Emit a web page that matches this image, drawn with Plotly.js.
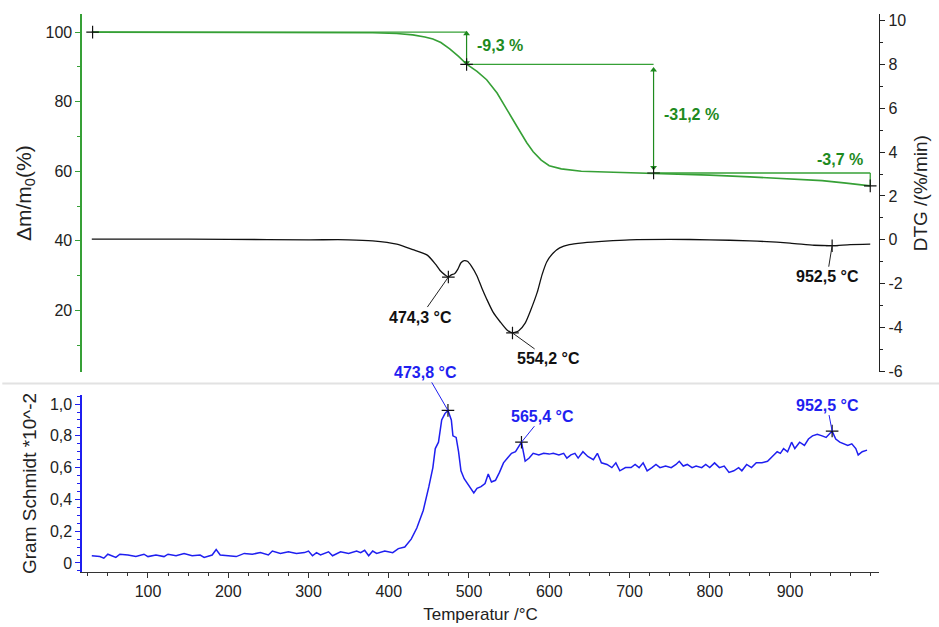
<!DOCTYPE html>
<html>
<head>
<meta charset="utf-8">
<script src="https://cdn.plot.ly/plotly-3.0.1.min.js"></script>
<style>html,body{margin:0;padding:0;background:#fff;}#chart{width:939px;height:627px;}</style>
</head>
<body>
<div id="chart"></div>
<script>
// ---- TG (mass loss, %) ----
var tgT = [30,100,200,300,380,410,430,445,455,465,476,487,497,510,522,535,547,560,572,580,590,600,615,640,680,730,800,850,900,940,970,1000];
var tgV = [100,100,99.95,99.9,99.8,99.6,99.2,98.6,98.0,97.0,95.2,93.0,90.8,88.7,86.3,82.5,77.7,72.8,68.2,65.6,63.2,61.6,60.7,60.0,59.7,59.4,58.9,58.4,57.8,57.3,56.6,55.8];

// ---- DTG (%/min) ----
var dtgT = [30,100,200,300,350,380,410,430,448,458,464,470,474.3,478,482,486,490,494,498,503,510,516,522,530,539,547,554.2,562,570,577,585,591,597,605,613,625,642,670,700,750,800,850,900,930,952.5,975,1000];
var dtgV = [0.03,0.03,0.02,0.0,0.0,-0.05,-0.2,-0.45,-0.7,-1.1,-1.4,-1.6,-1.7,-1.6,-1.55,-1.35,-1.05,-0.95,-0.98,-1.2,-1.65,-2.2,-2.7,-3.3,-3.75,-4.1,-4.25,-4.15,-3.8,-3.2,-2.4,-1.6,-1.0,-0.6,-0.37,-0.22,-0.14,-0.06,0.0,0.02,0.0,-0.05,-0.15,-0.25,-0.27,-0.22,-0.2];

// ---- Gram Schmidt (*10^-2) ----
var gsT = [30,40,45,50,60,65,75,85,95,100,110,120,125,135,145,155,165,170,180,185,190,200,210,220,230,240,250,255,265,275,285,295,300,305,310,315,325,330,340,350,360,365,370,375,380,385,395,405,412,420,428,435,443,450,455,458,462,466,470,473.8,478,480,484,487,490,494,498,503,506,510,515,520,524,528,533,538,543,548,553,558,562,565.4,570,575,580,587,593,600,605,612,618,622,627,632,636,642,648,655,660,665,672,678,683,688,695,702,707,712,717,722,728,733,738,745,752,758,762,767,772,778,783,790,795,800,806,812,818,824,830,836,840,846,852,858,865,872,878,884,888,892,897,902,906,912,918,923,928,934,940,945,952.5,957,962,968,972,977,982,985,990,996];
var gsV = [0.045,0.04,0.03,0.055,0.035,0.055,0.05,0.04,0.055,0.04,0.05,0.04,0.055,0.045,0.06,0.045,0.05,0.035,0.05,0.085,0.05,0.045,0.04,0.06,0.055,0.065,0.05,0.075,0.06,0.07,0.06,0.065,0.075,0.045,0.065,0.05,0.07,0.045,0.07,0.06,0.075,0.065,0.08,0.045,0.075,0.06,0.075,0.065,0.09,0.1,0.15,0.22,0.33,0.48,0.6,0.72,0.76,0.9,0.94,0.96,0.9,0.8,0.79,0.7,0.58,0.53,0.5,0.47,0.44,0.47,0.48,0.5,0.56,0.51,0.52,0.57,0.63,0.66,0.69,0.7,0.73,0.76,0.64,0.66,0.69,0.68,0.69,0.685,0.69,0.68,0.69,0.66,0.68,0.69,0.66,0.7,0.67,0.65,0.69,0.63,0.62,0.6,0.63,0.58,0.6,0.6,0.62,0.6,0.63,0.58,0.6,0.62,0.6,0.61,0.6,0.62,0.64,0.61,0.62,0.6,0.61,0.6,0.62,0.6,0.63,0.6,0.61,0.57,0.58,0.6,0.58,0.62,0.6,0.63,0.63,0.64,0.67,0.7,0.69,0.72,0.7,0.76,0.72,0.76,0.74,0.78,0.8,0.81,0.8,0.79,0.83,0.78,0.76,0.75,0.74,0.75,0.72,0.68,0.7,0.71];

// ---- evaluated points / steps ----
var stepT = [31, 497, 730, 1000];
var stepLevel = [100, 90.7, 59.5, 55.8];
var stepLabels = ['-9,3 %', '-31,2 %', '-3,7 %'];
var dtgPeakT = [474.3, 554.2, 952.5];
var dtgPeakV = [-1.7, -4.25, -0.27];
var dtgPeakLabels = ['474,3 °C', '554,2 °C', '952,5 °C'];
var gsPeakT = [473.8, 565.4, 952.5];
var gsPeakV = [0.96, 0.76, 0.83];
var gsPeakLabels = ['473,8 °C', '565,4 °C', '952,5 °C'];

// ---- tick labels ----
var xTickVals = [100,200,300,400,500,600,700,800,900];
var xTickText = ['100','200','300','400','500','600','700','800','900'];
var tgTickVals = [20,40,60,80,100];
var tgTickText = ['20','40','60','80','100'];
var dtgTickVals = [-6,-4,-2,0,2,4,6,8,10];
var dtgTickText = ['-6','-4','-2','0','2','4','6','8','10'];
var gsTickVals = [0,0.2,0.4,0.6,0.8,1.0];
var gsTickText = ['0','0,2','0,4','0,6','0,8','1,0'];

var GREEN = '#36a036';
var GREEN_TXT = '#1e8a1e';
var BLUE = '#1f1ff0';
var FONT = 'Liberation Sans, Arial, sans-serif';

// step lines (horizontal levels + final vertical)
var sx = [], sy = [];
for (var i = 0; i < stepT.length - 1; i++) {
  sx.push(stepT[i], stepT[i+1], null);
  sy.push(stepLevel[i], stepLevel[i], null);
}
sx.push(stepT[stepT.length-1], stepT[stepT.length-1]);
sy.push(stepLevel[stepLevel.length-2], stepLevel[stepLevel.length-1]);

// double-headed arrows for the first two steps
var arrX = [], arrY = [], arrSym = [];
for (var k = 0; k < 2; k++) {
  var span = stepLevel[k] - stepLevel[k+1];
  arrX.push(stepT[k+1], stepT[k+1], null);
  arrY.push(stepLevel[k] - span*0.05, stepLevel[k+1] + span*0.05, null);
  arrSym.push('triangle-up', 'triangle-down', 'circle');
}

var traces = [
  {x: tgT, y: tgV, xaxis: 'x', yaxis: 'y', mode: 'lines', line: {color: GREEN, width: 1.6}, hoverinfo: 'skip'},
  {x: sx, y: sy, xaxis: 'x', yaxis: 'y', mode: 'lines', line: {color: GREEN, width: 1.3}, hoverinfo: 'skip'},
  {x: arrX, y: arrY, xaxis: 'x', yaxis: 'y', mode: 'lines+markers', line: {color: GREEN_TXT, width: 1.2},
    marker: {symbol: arrSym, size: 6, color: GREEN_TXT}, hoverinfo: 'skip'},
  {x: stepT, y: stepLevel, xaxis: 'x', yaxis: 'y', mode: 'markers', marker: {symbol: 'cross-thin', size: 9, line: {color: '#111', width: 1.2}}, hoverinfo: 'skip'},
  {x: dtgT, y: dtgV, xaxis: 'x', yaxis: 'y2', mode: 'lines', line: {color: '#111', width: 1.3, shape: 'spline', smoothing: 0.6}, hoverinfo: 'skip'},
  {x: dtgPeakT, y: dtgPeakV, xaxis: 'x', yaxis: 'y2', mode: 'markers', marker: {symbol: 'cross-thin', size: 9, line: {color: '#111', width: 1.2}}, hoverinfo: 'skip'},
  {x: gsT, y: gsV, xaxis: 'x', yaxis: 'y3', mode: 'lines', line: {color: BLUE, width: 1.5}, hoverinfo: 'skip'},
  {x: gsPeakT, y: gsPeakV, xaxis: 'x', yaxis: 'y3', mode: 'markers', marker: {symbol: 'cross-thin', size: 9, line: {color: '#111', width: 1.2}}, hoverinfo: 'skip'}
];

var annotations = [];
// step labels
annotations.push({x: 507, y: 96.2, xref: 'x', yref: 'y', text: '<b>' + stepLabels[0] + '</b>', showarrow: false, xanchor: 'left', font: {family: FONT, size: 16, color: GREEN_TXT}});
annotations.push({x: 741, y: 76.3, xref: 'x', yref: 'y', text: '<b>' + stepLabels[1] + '</b>', showarrow: false, xanchor: 'left', font: {family: FONT, size: 16, color: GREEN_TXT}});
annotations.push({x: 993, y: 63.4, xref: 'x', yref: 'y', text: '<b>' + stepLabels[2] + '</b>', showarrow: false, xanchor: 'right', font: {family: FONT, size: 16, color: GREEN_TXT}});
// DTG peak labels
var dtgOff = [[-28, 40], [36, 26], [-5, 31]];
for (var d = 0; d < dtgPeakT.length; d++) {
  annotations.push({x: dtgPeakT[d], y: dtgPeakV[d], xref: 'x', yref: 'y2', ax: dtgOff[d][0], ay: dtgOff[d][1], text: '<b>' + dtgPeakLabels[d] + '</b>',
    showarrow: true, arrowhead: 0, arrowwidth: 1, arrowcolor: '#222', font: {family: FONT, size: 16, color: '#111'}});
}
// GS peak labels
var gsOff = [[-22, -38], [21, -26], [-5, -26]];
for (var g = 0; g < gsPeakT.length; g++) {
  annotations.push({x: gsPeakT[g], y: gsPeakV[g], xref: 'x', yref: 'y3', ax: gsOff[g][0], ay: gsOff[g][1], text: '<b>' + gsPeakLabels[g] + '</b>',
    showarrow: true, arrowhead: 0, arrowwidth: 1, arrowcolor: BLUE, font: {family: FONT, size: 16, color: BLUE}});
}

var tickFont = {family: FONT, size: 16, color: '#222'};
var layout = {
  width: 939, height: 627,
  margin: {l: 82, r: 60, t: 14, b: 55},
  paper_bgcolor: '#fff', plot_bgcolor: '#fff',
  showlegend: false,
  xaxis: {range: [17.8, 1010.9], anchor: 'y3', tickmode: 'array', tickvals: xTickVals, ticktext: xTickText,
    showline: true, linecolor: '#333', linewidth: 1.2, ticks: 'outside', ticklen: 5, tickcolor: '#333',
    minor: {dtick: 25, tick0: 0, ticks: 'outside', ticklen: 3, tickcolor: '#333', showgrid: false},
    showgrid: false, zeroline: false, tickfont: tickFont,
    title: {text: 'Temperatur /°C', font: {family: FONT, size: 17, color: '#222'}, standoff: 8}},
  yaxis: {domain: [0.3577, 1], range: [2.2, 105.2], anchor: 'x', tickmode: 'array', tickvals: tgTickVals, ticktext: tgTickText,
    showline: true, linecolor: GREEN, linewidth: 1.6, ticks: 'outside', ticklen: 5, tickcolor: GREEN,
    minor: {dtick: 10, tick0: 0, ticks: 'outside', ticklen: 3, tickcolor: GREEN, showgrid: false},
    showgrid: false, zeroline: false, tickfont: tickFont,
    title: {text: 'Δm/m<sub>0</sub>(%)', font: {family: FONT, size: 21, color: '#222'}, standoff: 8}},
  yaxis2: {overlaying: 'y', side: 'right', anchor: 'x', range: [-6.05, 10.3], tickmode: 'array', tickvals: dtgTickVals, ticktext: dtgTickText,
    showline: true, linecolor: '#222', linewidth: 1.2, ticks: 'outside', ticklen: 5, tickcolor: '#222',
    minor: {dtick: 1, tick0: 0, ticks: 'outside', ticklen: 3, tickcolor: '#222', showgrid: false},
    showgrid: false, zeroline: false, tickfont: tickFont,
    title: {text: 'DTG /(%/min)', font: {family: FONT, size: 19, color: '#222'}, standoff: 8}},
  yaxis3: {domain: [0, 0.3172], range: [-0.057, 1.057], anchor: 'x', tickmode: 'array', tickvals: gsTickVals, ticktext: gsTickText,
    showline: true, linecolor: BLUE, linewidth: 1.6, ticks: 'outside', ticklen: 5, tickcolor: BLUE,
    minor: {dtick: 0.05, tick0: 0, ticks: 'outside', ticklen: 3, tickcolor: BLUE, showgrid: false},
    showgrid: false, zeroline: false, tickfont: tickFont,
    title: {text: 'Gram Schmidt *10^-2', font: {family: FONT, size: 19, color: '#222'}, standoff: 8}},
  shapes: [{type: 'line', xref: 'paper', yref: 'paper', x0: -0.1, x1: 1.08, y0: 0.3378, y1: 0.3378, line: {color: '#e2e2e2', width: 2}}],
  annotations: annotations
};

Plotly.newPlot('chart', traces, layout, {staticPlot: true, displayModeBar: false});
</script>
</body>
</html>
